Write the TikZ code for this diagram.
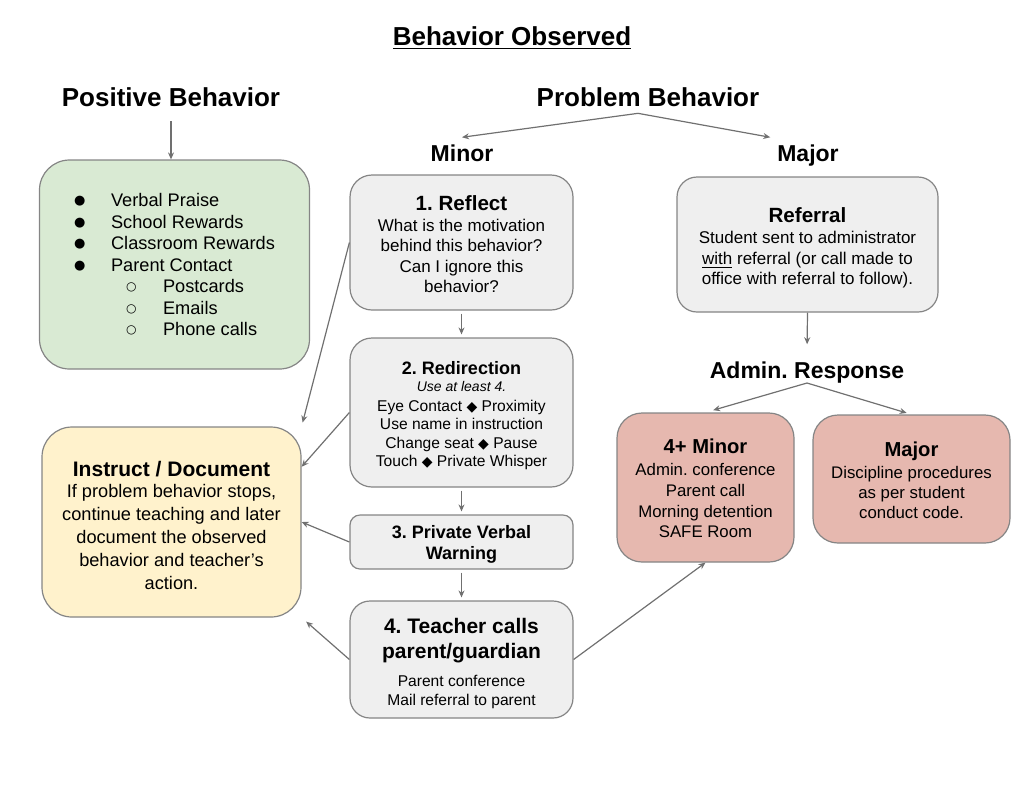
\documentclass[tikz,border=0pt]{standalone}
\usepackage{fontspec}
\setmainfont{Liberation Sans}
\newfontfamily\symfont{DejaVu Sans}
\usetikzlibrary{arrows.meta}
\frenchspacing

\definecolor{posgreen}{HTML}{D9EAD3}
\definecolor{docyellow}{HTML}{FFF2CC}
\definecolor{admred}{HTML}{E6B8AF}
\definecolor{stepgrey}{HTML}{EFEFEF}
\definecolor{rimgrey}{HTML}{858585}
\definecolor{linkgrey}{HTML}{707070}

\newcommand{\soliddot}{\raisebox{0.9pt}{\symfont\fontsize{6.5}{6.5}\selectfont ●}}
\newcommand{\hollowdot}{\raisebox{0.9pt}{\symfont\fontsize{6}{6}\selectfont ○}}
\newcommand{\dmd}{{\symfont\fontsize{7}{7}\selectfont ◆}}
\newcommand{\lift}[1]{\rule{0pt}{#1}}

\begin{document}
\begin{tikzpicture}[x=0.5pt,y=-0.5pt,>={Stealth[length=3.5pt,width=3pt]}]
    \tikzstyle{card}=[draw=rimgrey,line width=0.6pt,align=center,inner sep=0pt]
    \tikzstyle{link}=[->,draw=linkgrey,line width=0.6pt]
    \tikzstyle{bighead}=[font=\fontsize{13}{15}\selectfont\bfseries,anchor=base]
    \tikzstyle{smallhead}=[font=\fontsize{11.5}{14}\selectfont\bfseries,anchor=base]
    \useasboundingbox (0,0) rectangle (1024,784);

    \node[bighead] (title) at (512,45) {\underline{Behavior Observed}};
    \node[bighead] (poslbl) at (171,106) {Positive Behavior};
    \node[bighead] (problbl) at (648,106) {Problem Behavior};
    \node[smallhead] (minorlbl) at (462,161) {Minor};
    \node[smallhead] (majorlbl) at (808,161) {Major};
    \node[smallhead] (adminlbl) at (807,378) {Admin. Response};

    \node[card,fill=posgreen,rounded corners=15pt,minimum width=135pt,minimum height=104.5pt,
          font=\fontsize{9.1}{10.75}\selectfont,align=left] (praise) at (174.5,264.5)
        {\makebox[18.5pt][l]{\soliddot}Verbal Praise\\
         \makebox[18.5pt][l]{\soliddot}School Rewards\\
         \makebox[18.5pt][l]{\soliddot}Classroom Rewards\\
         \makebox[18.5pt][l]{\soliddot}Parent Contact\\
         \makebox[26pt]{}\makebox[18.5pt][l]{\hollowdot}Postcards\\
         \makebox[26pt]{}\makebox[18.5pt][l]{\hollowdot}Emails\\
         \makebox[26pt]{}\makebox[18.5pt][l]{\hollowdot}Phone calls};

    \node[card,fill=stepgrey,rounded corners=11pt,minimum width=111.5pt,minimum height=67.5pt,
          font=\fontsize{8.5}{10.25}\selectfont] (reflect) at (461.5,242.5)
        {{\lift{9.5pt}\fontsize{10.3}{12}\selectfont\bfseries 1. Reflect}\\What is the motivation\\behind this behavior?\\Can I ignore this\\behavior?};
    \node[card,fill=stepgrey,rounded corners=11pt,minimum width=111.5pt,minimum height=74.5pt,
          font=\fontsize{7.8}{9.2}\selectfont] (redirect) at (461.5,412.5)
        {{\lift{9.6pt}\fontsize{9}{11}\selectfont\bfseries 2. Redirection}\\[-0.7pt]{\fontsize{7}{8}\selectfont\itshape Use at least 4.}\\[0.8pt]
         Eye Contact \dmd{} Proximity\\Use name in instruction\\Change seat \dmd{} Pause\\Touch \dmd{} Private Whisper};
    \node[card,fill=stepgrey,rounded corners=5pt,minimum width=111.5pt,minimum height=27pt,
          font=\fontsize{9}{10.5}\selectfont\bfseries] (warning) at (461.5,542) {\lift{9.1pt}3. Private Verbal\\Warning};
    \node[card,fill=stepgrey,rounded corners=10pt,minimum width=111.5pt,minimum height=58.5pt,
          font=\fontsize{7.8}{9.5}\selectfont] (teacher) at (461.5,659.5)
        {{\lift{11.2pt}\fontsize{10.5}{12}\selectfont\bfseries 4. Teacher calls}\\[3pt]{\fontsize{10.5}{12}\selectfont\bfseries parent/guardian}\\[4.5pt]
         Parent conference\\Mail referral to parent};

    \node[card,fill=docyellow,rounded corners=15pt,minimum width=129.5pt,minimum height=95pt,
          font=\fontsize{9.1}{11.5}\selectfont] (instruct) at (171.5,522)
        {{\lift{11.2pt}\fontsize{10.5}{12}\selectfont\bfseries Instruct / Document}\\[-0.75pt]If problem behavior stops,\\continue teaching and later\\
         document the observed\\behavior and teacher's\\action.};

    \node[card,fill=stepgrey,rounded corners=10pt,minimum width=130.5pt,minimum height=67.5pt,
          font=\fontsize{8.5}{10.25}\selectfont] (referral) at (807.5,244.5)
        {{\lift{10.5pt}\fontsize{10.3}{12}\selectfont\bfseries Referral}\\[0.5pt]Student sent to administrator\\\underline{with} referral (or call made to\\office with referral to follow).};
    \node[card,fill=admred,rounded corners=12.5pt,minimum width=88.5pt,minimum height=74.5pt,
          font=\fontsize{8.4}{10.35}\selectfont] (minorfour) at (705.5,487.5)
        {{\lift{8.4pt}\fontsize{10.1}{12}\selectfont\bfseries 4+ Minor}\\[0.5pt]Admin. conference\\Parent call\\Morning detention\\SAFE Room};
    \node[card,fill=admred,rounded corners=12.5pt,minimum width=98.5pt,minimum height=64pt,
          font=\fontsize{8.4}{10.2}\selectfont] (majorbox) at (911.5,479)
        {{\lift{8.9pt}\fontsize{10.1}{12}\selectfont\bfseries Major}\\[0.5pt]Discipline procedures\\as per student\\conduct code.};

    \draw[link,shorten <=4pt] (poslbl.south) -- (poslbl.south |- praise.north);
    \draw[link] ([xshift=-5pt]problbl.south) -- (minorlbl.north);
    \draw[link] ([xshift=-5pt]problbl.south) -- (majorlbl.north west);
    \draw[link,shorten <=1.5pt,shorten >=1.5pt] (reflect) -- (redirect);
    \draw[link,shorten <=1.5pt,shorten >=1.5pt] (redirect) -- (warning);
    \draw[link,shorten <=1.5pt,shorten >=1.5pt] (warning) -- (teacher);
    \draw[link,shorten >=2pt] (reflect.west) -- (instruct.north east);
    \draw[link] (redirect.west) -- (instruct.23);
    \draw[link] (warning.west) -- (instruct.east);
    \draw[link,shorten >=3pt] (teacher.west) -- (instruct.south east);
    \draw[link] (teacher.east) -- (minorfour.south);
    \draw[link,shorten >=5pt] (referral.south) -- (adminlbl.north);
    \draw[link,shorten >=4pt] ([yshift=-2.5pt]adminlbl.base) -- (minorfour.north);
    \draw[link,shorten >=2.5pt] ([yshift=-2.5pt]adminlbl.base) -- (majorbox.north);
\end{tikzpicture}
\end{document}
